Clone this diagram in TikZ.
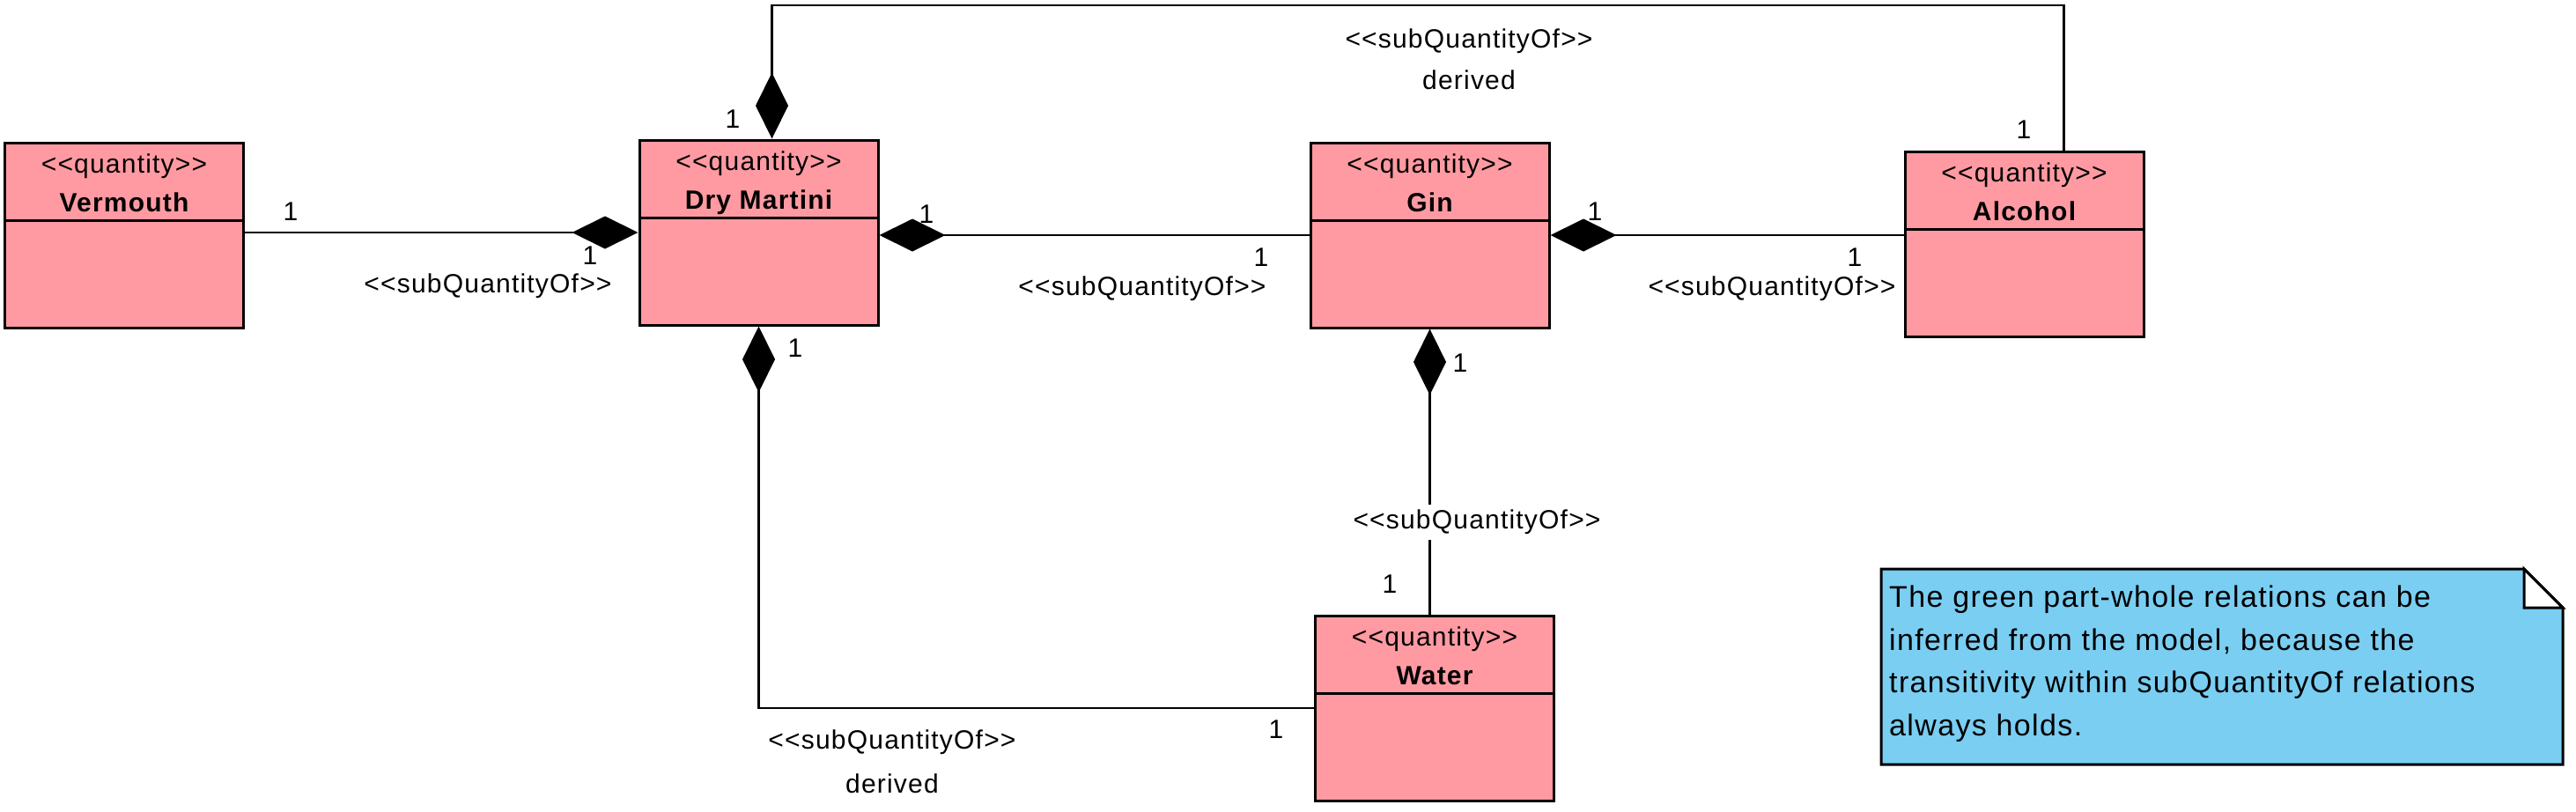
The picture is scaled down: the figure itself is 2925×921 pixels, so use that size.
\documentclass[tikz,border=0pt]{standalone}
\usepackage{fontspec}
\setmainfont{Liberation Sans}[Ligatures=TeXOff,LetterSpace=4]
\usetikzlibrary{arrows.meta,calc}
\definecolor{qpink}{RGB}{255,154,162}
\definecolor{noteblue}{RGB}{122,206,242}
\begin{document}
\begin{tikzpicture}[x=1pt,y=-1pt,
  qbox/.style={draw,line width=3pt,fill=qpink,minimum width=271pt,minimum height=210pt,inner sep=0pt},
  lbl/.style={font=\fontsize{30}{36}\selectfont,inner sep=0pt},
  st/.style={lbl,anchor=base},
  nm/.style={font=\fontsize{30}{36}\selectfont\bfseries,inner sep=0pt,anchor=base},
  divline/.style={line width=3pt},
  comp/.style={line width=2.5pt,-{Diamond[length=75pt,width=37pt]}},
  notetxt/.style={font=\fontsize{34}{48}\selectfont,inner sep=0pt,anchor=base west}]
\useasboundingbox (0,0) rectangle (2925,921);

% classes
\node[qbox] (verm) at (141,267) {};
\node[qbox] (dm) at (861.5,264) {};
\node[qbox] (gin) at (1623.5,267) {};
\node[qbox] (alc) at (2298.5,277) {};
\node[qbox] (water) at (1629,804) {};
\foreach \n/\t in {verm/Vermouth,dm/Dry Martini,gin/Gin,alc/Alcohol,water/Water}{
  \draw[divline] ($(\n.north west)+(0,90)$) -- ($(\n.north east)+(0,90)$);
  \node[st] (\n-st) at ($(\n.north)+(0,36)$) {<<quantity>>};
  \node[nm] (\n-nm) at ($(\n.north)+(0,80)$) {\t};
}

% connectors
\draw[comp] (verm.east |- dm.west) -- (dm.west);
\draw[comp] (gin.west) -- (gin.west -| dm.east);
\draw[comp] (alc.west |- gin.east) -- (gin.east);
\draw[comp] (water.north -| gin.south) -- (gin.south);
\draw[comp] (water.west) -- (water.west -| dm.south) -- (dm.south);
\coordinate (atop) at ($(alc.north)+(45,0)$);
\coordinate (dtop) at ($(dm.north)+(15,0)$);
\coordinate (ytop) at (0,6);
\draw[comp] (atop) -- (atop |- ytop) -- (dtop |- ytop) -- (dtop);

% labels
\node[lbl] (m1) at (330,240) {1};
\node[lbl] (m2) at (670,290) {1};
\node[lbl] (s1) at (554,325) {<<subQuantityOf>>};
\node[lbl] (m3) at (1052,243) {1};
\node[lbl] (m4) at (1432,292) {1};
\node[lbl] (s2) at (1297,328) {<<subQuantityOf>>};
\node[lbl] (m5) at (1811,240) {1};
\node[lbl] (m6) at (2106,292) {1};
\node[lbl] (s3) at (2012,328) {<<subQuantityOf>>};
\node[lbl] (s4) at (1668,47) {<<subQuantityOf>>};
\node[lbl] (d1) at (1668,91) {derived};
\node[lbl] (m7) at (832,135) {1};
\node[lbl] (m8) at (2298,147) {1};
\node[lbl] (m9) at (903,395) {1};
\node[lbl] (m10) at (1449,828) {1};
\node[lbl] (s5) at (1013,843) {<<subQuantityOf>>};
\node[lbl] (d2) at (1013,890) {derived};
\node[lbl] (m11) at (1658,412) {1};
\node[lbl,fill=white,inner xsep=4pt,inner ysep=6pt] (s6) at (1677,593) {<<subQuantityOf>>};
\node[lbl] (m12) at (1578,663) {1};

% note
\draw[line width=3pt,fill=noteblue] (2136,646) -- (2866,646) -- (2910,690) -- (2910,868) -- (2136,868) -- cycle;
\draw[line width=3pt,fill=white,line join=miter] (2866,646) -- (2866,690) -- (2910,690) -- cycle;
\node[notetxt] (n1) at (2145,689) {The green part-whole relations can be};
\node[notetxt] (n2) at (2145,738) {inferred from the model, because the};
\node[notetxt] (n3) at (2145,786) {transitivity within subQuantityOf relations};
\node[notetxt] (n4) at (2145,835) {always holds.};
\end{tikzpicture}
\end{document}
